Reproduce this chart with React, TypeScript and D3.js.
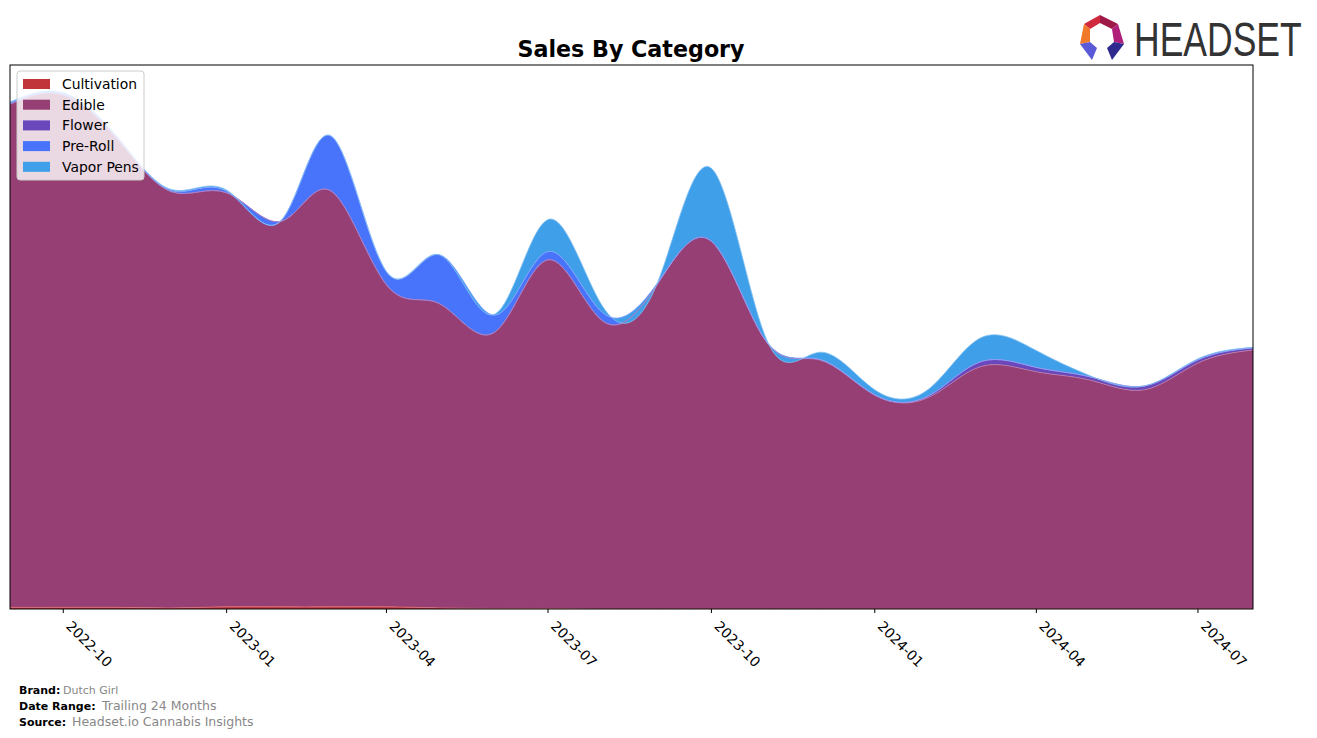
import React from "react";
import * as d3 from "d3";

const months = [
  "2022-09", "2022-10", "2022-11", "2022-12", "2023-01", "2023-02", "2023-03", "2023-04",
  "2023-05", "2023-06", "2023-07", "2023-08", "2023-09", "2023-10", "2023-11", "2023-12",
  "2024-01", "2024-02", "2024-03", "2024-04", "2024-05", "2024-06", "2024-07", "2024-08",
];

const categories = ["Cultivation", "Edible", "Flower", "Pre-Roll", "Vapor Pens"];

const cultivation = [0.3, 0.3, 0.3, 0.2, 0.4, 0.4, 0.4, 0.4, 0.2, 0.1, 0.1, 0, 0, 0, 0, 0, 0, 0, 0, 0, 0, 0, 0, 0];
const edible = [92.5, 94.2, 85.9, 76.5, 76.1, 70.9, 76.4, 59.2, 55.9, 50.8, 64.1, 52.9, 59.9, 67.6, 49.1, 45.8, 39.3, 39.0, 44.6, 43.6, 42.1, 40.3, 45.2, 47.6];
const flower = [0, 0, 0, 0, 0, 0, 0, 0, 0, 0, 0, 0, 0, 0, 0, 0, 0, 0.3, 0.9, 0.8, 0.6, 0.7, 0.6, 0.4];
const preRoll = [0.2, 0.2, 0.2, 0.2, 0.3, 0.2, 10.1, 2.4, 9.0, 3.1, 1.5, 1.5, 0.2, 0, 0.1, 0.1, 0.1, 0, 0, 0, 0, 0, 0, 0];
const vaporPens = [0.2, 0.2, 0.2, 0.2, 0.2, 0, 0, 0, 0, 0.2, 5.9, 1.1, 0.2, 13.4, 0.4, 1.3, 0.9, 1.3, 4.4, 3.1, 0.2, 0, 0.2, 0.1];

const tickLabels = ["2022-10", "2023-01", "2023-04", "2023-07", "2023-10", "2024-01", "2024-04", "2024-07"];

const colors = ["#c0343a", "#953f74", "#6a48bc", "#4774fb", "#3f9fe8"];
const edgeColors = ["#d9707a", "#c07aa4", "#9a80d8", "#86a2ff", "#86c2f2"];

const W = 1317;
const H = 738;
const left = 10;
const right = 1253;
const top = 65;
const bottom = 609;

export default function App() {
  const parse = d3.utcParse("%Y-%m");
  const dates = months.map((m) => parse(m) as Date);
  const series = [cultivation, edible, flower, preRoll, vaporPens];
  const rows = months.map((_, i) => {
    const r: any = { date: dates[i] };
    categories.forEach((c, k) => (r[c] = series[k][i]));
    return r;
  });
  const stacked = d3.stack().keys(categories)(rows);

  const x = d3.scaleUtc().domain([dates[0], dates[dates.length - 1]]).range([left, right]);
  const y = d3.scaleLinear().domain([0, 100]).range([bottom, top]);

  const area = d3
    .area<any>()
    .x((d) => x(d.data.date))
    .y0((d) => y(d[0]))
    .y1((d) => y(d[1]))
    .curve(d3.curveNatural);
  const line = d3
    .line<any>()
    .x((d) => x(d.data.date))
    .y((d) => y(d[1]))
    .curve(d3.curveNatural);

  const ticks = tickLabels.map((t) => parse(t) as Date);

  const legendX = 17;
  const legendY = 71;
  const rowH = 20.7;

  return (
    <svg width={W} height={H} style={{ position: "absolute", left: 0, top: 0 }} fontFamily="DejaVu Sans, sans-serif">
      <rect x={0} y={0} width={W} height={H} fill="#ffffff" />
      <defs>
        <clipPath id="plotclip">
          <rect x={left} y={top} width={right - left} height={bottom - top} />
        </clipPath>
      </defs>
      <text x={631} y={57} textAnchor="middle" fontSize={22.2} fontWeight="bold" fill="#000">
        Sales By Category
      </text>
      <g clipPath="url(#plotclip)">
        {stacked.map((s, k) => (
          <path key={"a" + k} d={area(s) || ""} fill={colors[k]} />
        ))}
        {stacked.map((s, k) => (
          <path key={"l" + k} d={line(s) || ""} fill="none" stroke={edgeColors[k]} strokeWidth={0.8} />
        ))}
      </g>
      <rect x={left} y={top} width={right - left} height={bottom - top} fill="none" stroke="#000" strokeWidth={1} />
      {ticks.map((t, i) => {
        const tx = x(t);
        return (
          <g key={"t" + i}>
            <line x1={tx} x2={tx} y1={bottom} y2={bottom + 4} stroke="#000" strokeWidth={1} />
            <text
              x={tx + 2}
              y={bottom + 18}
              fontSize={13.9}
              fill="#000"
              transform={`rotate(45 ${tx + 2} ${bottom + 18})`}
            >
              {tickLabels[i]}
            </text>
          </g>
        );
      })}
      <g>
        <rect x={legendX} y={legendY} width={127} height={109} rx={3} fill="#ffffff" fillOpacity={0.8} stroke="#cccccc" strokeWidth={1} />
        {categories.map((c, k) => (
          <g key={"lg" + k}>
            <rect x={legendX + 6} y={legendY + 8 + k * rowH} width={27} height={10} fill={colors[k]} />
            <text x={legendX + 45} y={legendY + 18 + k * rowH} fontSize={13.9} fill="#000">
              {c}
            </text>
          </g>
        ))}
      </g>
      <g>
        <polygon points="1084,24 1100,15 1100,23 1090,29" fill="#d0283c" />
        <polygon points="1100,15 1118,24 1112,29 1100,23" fill="#9e1848" />
        <polygon points="1084,24 1090,29 1090,42 1080,44" fill="#f07a2a" />
        <polygon points="1118,24 1124,44 1114,42 1112,29" fill="#b0207a" />
        <polygon points="1080,44 1090,42 1097,48 1092,60" fill="#5a5ad8" />
        <polygon points="1124,44 1114,42 1107,48 1112,60" fill="#2e2a8e" />
        <text
          transform="translate(1134,56) scale(0.725,1)"
          x={0}
          y={0}
          fontSize={49}
          fill="#333333"
          fontFamily="Liberation Sans, sans-serif"
        >
          HEADSET
        </text>
      </g>
      <g fontSize={11}>
        <text x={19} y={694} fontWeight="bold" fill="#000">Brand:</text>
        <text x={63} y={694} fill="#888888">Dutch Girl</text>
        <text x={19} y={710} fontWeight="bold" fill="#000">Date Range:</text>
        <text x={102} y={710} fill="#888888" fontSize={12.5}>Trailing 24 Months</text>
        <text x={19} y={726} fontWeight="bold" fill="#000">Source:</text>
        <text x={72} y={726} fill="#888888" fontSize={12.5}>Headset.io Cannabis Insights</text>
      </g>
    </svg>
  );
}
